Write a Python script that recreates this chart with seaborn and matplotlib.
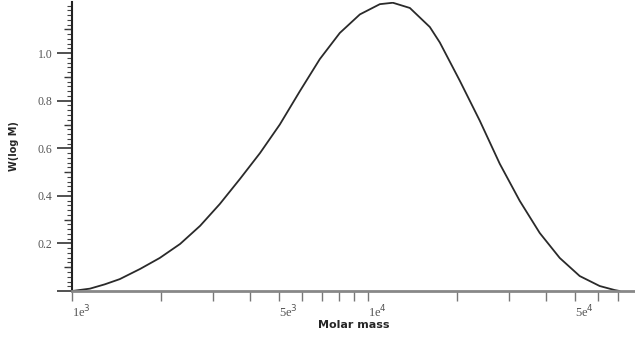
import numpy as np
import pandas as pd
import seaborn as sns
from matplotlib import pyplot as plt
from matplotlib.ticker import FixedLocator, MultipleLocator, NullFormatter

# molar mass distribution
molar_mass = [1000, 1150, 1290, 1450, 1700, 1980, 2320, 2710, 3160, 3700,
              4320, 5040, 5890, 6880, 8040, 9400, 10980, 12150, 13870,
              16200, 17510, 20460, 23900, 27920, 32620, 38110, 44530,
              52020, 60780, 68310, 71010]
w_log_m = [0.0, 0.01, 0.028, 0.05, 0.093, 0.139, 0.198, 0.274, 0.366, 0.472,
           0.58, 0.70, 0.84, 0.975, 1.085, 1.163, 1.206, 1.212, 1.19,
           1.11, 1.045, 0.884, 0.716, 0.535, 0.379, 0.244, 0.139,
           0.063, 0.021, 0.004, 0.0]

x_ticks = [1000, 2000, 3000, 4000, 5000, 6000, 7000, 8000, 9000,
           10000, 20000, 30000, 40000, 50000, 60000, 70000]
x_tick_labels = {1000: r"1e$^{3}$", 5000: r"5e$^{3}$",
                 10000: r"1e$^{4}$", 50000: r"5e$^{4}$"}
y_major = [0.0, 0.2, 0.4, 0.6, 0.8, 1.0]
y_labels = ["", "0.2", "0.4", "0.6", "0.8", "1.0"]

df = pd.DataFrame({"Molar mass": molar_mass, "W(log M)": w_log_m})

sns.set_style("white")
fig = plt.figure(figsize=(6.35, 3.38), dpi=100)
ax = fig.add_axes([0.1134, 0.139, 0.8866, 0.855])

sns.lineplot(data=df, x="Molar mass", y="W(log M)", ax=ax,
             color="#2a2a2a", linewidth=1.3)
ax.set_xscale("log")
ax.set_xlim(1000, 80000)
ax.set_ylim(0, 1.215)

ax.xaxis.set_major_locator(FixedLocator(x_ticks))
ax.xaxis.set_minor_locator(FixedLocator([]))
ax.set_xticklabels([x_tick_labels.get(t, "") for t in x_ticks],
                   ha="left", family="Liberation Serif", fontsize=9,
                   color="#555555")
ax.tick_params(axis="x", which="major", direction="out", length=7,
               width=1, color="#777777", pad=2, bottom=True)

ax.yaxis.set_major_locator(FixedLocator(y_major))
ax.set_yticklabels(y_labels, family="Liberation Serif", fontsize=8.5,
                   color="#555555")
ax.yaxis.set_minor_locator(MultipleLocator(0.02))
ax.yaxis.set_minor_formatter(NullFormatter())
ax.tick_params(axis="y", which="major", direction="out", length=11,
               width=1.2, color="#333333", pad=3, left=True)
ax.tick_params(axis="y", which="minor", direction="out", length=3.5,
               width=0.8, color="#444444", left=True)

# medium ticks at the odd tenths
mid = ax.secondary_yaxis("left")
mid.set_yticks([0.1, 0.3, 0.5, 0.7, 0.9, 1.1])
mid.set_yticklabels([])
mid.tick_params(length=6, width=1, color="#333333")
mid.spines["left"].set_visible(False)

for side in ["top", "right"]:
    ax.spines[side].set_visible(False)
ax.spines["bottom"].set_color("#888888")
ax.spines["bottom"].set_linewidth(2)
ax.spines["left"].set_color("#222222")
ax.spines["left"].set_linewidth(1.5)

ax.set_xlabel("Molar mass", fontsize=8, fontweight="bold")
ax.set_ylabel("W(log M)", fontsize=7, fontweight="bold")
ax.xaxis.set_label_coords(0.5, -0.102)
ax.yaxis.set_label_coords(-0.094, 0.5)

fig.savefig("out.png", dpi=100)
